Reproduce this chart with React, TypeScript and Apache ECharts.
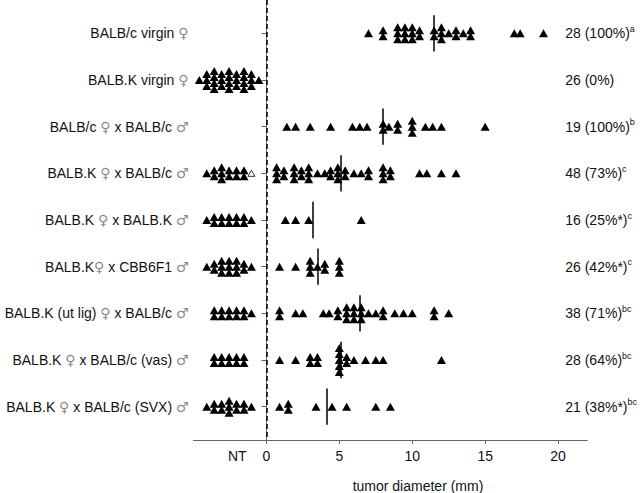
import React, { useEffect, useRef } from "react";
import * as echarts from "echarts";

// ---- data ----
const categories = [
  "BALB/c virgin ♀",
  "BALB.K virgin ♀",
  "BALB/c ♀ x BALB/c ♂",
  "BALB.K ♀ x BALB/c ♂",
  "BALB.K ♀ x BALB.K ♂",
  "BALB.K♀ x CBB6F1 ♂",
  "BALB.K (ut lig) ♀ x BALB/c ♂",
  "BALB.K ♀ x BALB/c (vas) ♂",
  "BALB.K ♀ x BALB/c (SVX) ♂",
];
const groupSizes = [28, 26, 19, 48, 16, 26, 38, 28, 21];
const percentLabels = ["100%", "0%", "100%", "73%", "25%*", "42%*", "71%", "64%", "38%*"];
const sigLetters = ["a", "", "b", "c", "c", "c", "bc", "bc", "bc"];

// tumor diameters (mm) per group
const row1 = [7.0, 8.0, 8.0, 9.0, 9.0, 9.0, 9.5, 9.5, 9.5, 10.0, 10.0, 10.0, 10.5, 10.5, 11.5, 11.5, 12.0, 12.0, 12.0, 12.5, 13.0, 13.0, 13.5, 14.0, 14.0, 17.0, 17.4, 19.0];
const row2: number[] = [];
const row3 = [1.4, 2.0, 3.0, 4.4, 5.9, 6.4, 6.9, 8.0, 8.0, 8.4, 9.0, 9.0, 10.0, 10.0, 10.0, 10.9, 11.4, 12.0, 15.0];
const row4 = [0.7, 0.7, 0.7, 1.2, 1.2, 1.9, 1.9, 1.9, 2.4, 2.4, 2.9, 2.9, 2.9, 3.5, 4.0, 4.4, 4.4, 4.9, 4.9, 4.9, 5.4, 5.4, 6.0, 6.5, 7.0, 7.0, 8.0, 8.0, 8.0, 8.5, 8.5, 10.5, 11.0, 12.0, 13.0];
const row5 = [1.3, 2.0, 2.9, 6.5];
const row6 = [0.9, 2.0, 3.0, 3.0, 3.0, 3.5, 4.0, 4.0, 5.0, 5.0, 5.0];
const row7 = [0.9, 0.9, 2.0, 2.5, 3.9, 4.3, 4.9, 4.9, 5.5, 5.5, 5.5, 6.0, 6.0, 6.0, 6.5, 6.5, 6.5, 7.0, 7.5, 8.0, 8.0, 8.8, 9.4, 10.0, 11.5, 11.5, 12.5];
const row8 = [0.9, 2.0, 3.0, 3.0, 3.5, 3.5, 5.0, 5.0, 5.0, 5.0, 5.0, 5.5, 5.5, 6.0, 6.8, 7.5, 8.0, 12.0];
const row9 = [0.9, 1.5, 1.5, 3.4, 4.5, 5.5, 7.5, 8.5];
const tumorSizes = [row1, row2, row3, row4, row5, row6, row7, row8, row9];

// non-tumor (NT) markers per cluster column (sums = group size - tumors; hollow one in group 4)
const ntColumns = [
  [0, 0, 0, 0, 0, 0, 0, 0, 0],
  [1, 3, 4, 3, 4, 3, 4, 3, 1],
  [0, 0, 0, 0, 0, 0, 0, 0, 0],
  [0, 1, 2, 3, 2, 2, 2, 0, 0],
  [0, 1, 2, 2, 2, 2, 2, 1, 0],
  [0, 1, 2, 3, 3, 3, 2, 1, 0],
  [0, 0, 2, 2, 2, 2, 2, 1, 0],
  [0, 0, 2, 2, 2, 2, 2, 0, 0],
  [0, 1, 2, 2, 3, 2, 2, 1, 0],
];
const hollowNT = [{ row: 3, col: 7 }];

// ---- layout constants ----
const FONT = "'Liberation Sans', Arial, sans-serif";
const PITCH = 6 / 46.667; // vertical stacking step in category units
const NT_START = -4.6;
const NT_STEP = 0.51;
const MEAN_HALF = 0.39;

function stackOffsets(n: number) {
  const out: number[] = [];
  for (let j = 0; j < n; j++) out.push((j - (n - 1) / 2) * PITCH);
  return out;
}

function buildTumorPoints() {
  const pts: number[][] = [];
  tumorSizes.forEach((vals, r) => {
    const groups = new Map<number, number>();
    vals.forEach((v) => groups.set(v, (groups.get(v) || 0) + 1));
    groups.forEach((n, v) => {
      stackOffsets(n).forEach((o) => pts.push([v, r + 1 + o]));
    });
  });
  return pts;
}

function buildNTPoints() {
  const pts: number[][] = [];
  ntColumns.forEach((cols, r) => {
    cols.forEach((n, c) => {
      stackOffsets(n).forEach((o) => pts.push([NT_START + c * NT_STEP, r + 1 + o]));
    });
  });
  return pts;
}

function buildMeanLines() {
  const lines: any[] = [];
  tumorSizes.forEach((vals, r) => {
    if (!vals.length) return;
    const m = vals.reduce((a, b) => a + b, 0) / vals.length;
    lines.push([{ coord: [m, r + 1 - MEAN_HALF] }, { coord: [m, r + 1 + MEAN_HALF] }]);
  });
  return lines;
}

function leftLabel(name: string) {
  return name
    .split(/([♀♂])/)
    .filter((p) => p.length)
    .map((p) => (p === "♀" || p === "♂" ? `{g|${p}}` : `{t|${p}}`))
    .join("");
}

export default function App() {
  const ref = useRef<HTMLDivElement>(null);
  useEffect(() => {
    if (!ref.current) return;
    const chart = echarts.init(ref.current, undefined, { renderer: "svg" });
    const rowVals = categories.map((_, i) => i + 1);
    const yMin = 2 / 7;
    const yMax = 68 / 7;
    const option: any = {
      animation: false,
      backgroundColor: "#ffffff",
      grid: { left: 193.5, right: 51, top: 0, bottom: 53, containLabel: false },
      xAxis: {
        type: "value",
        min: -5,
        max: 22,
        axisLine: { show: true, lineStyle: { color: "#666", width: 1 } },
        axisTick: { show: true, length: 4, customValues: [0, 5, 10, 15, 20], lineStyle: { color: "#666" } },
        splitLine: { show: false },
        axisLabel: {
          customValues: [-2, 0, 5, 10, 15, 20],
          formatter: (v: number) => (v === -2 ? "NT" : String(v)),
          fontFamily: FONT,
          fontSize: 14,
          color: "#111",
          margin: 9,
        },
      },
      yAxis: [
        {
          type: "value",
          min: yMin,
          max: yMax,
          inverse: true,
          axisLine: { show: true, lineStyle: { color: "#666", width: 1 } },
          axisTick: { show: true, length: 5, customValues: rowVals, lineStyle: { color: "#666" } },
          splitLine: { show: false },
          axisLabel: {
            customValues: rowVals,
            margin: 5,
            formatter: (v: number) => leftLabel(categories[Math.round(v) - 1] || ""),
            rich: {
              t: { fontFamily: FONT, fontSize: 14, color: "#111" },
              g: { fontFamily: "'DejaVu Sans', sans-serif", fontSize: 14, color: "#8a8a8a" },
            },
          },
        },
        {
          type: "value",
          position: "right",
          offset: -22,
          min: yMin,
          max: yMax,
          inverse: true,
          axisLine: { show: false },
          axisTick: { show: false },
          splitLine: { show: false },
          axisLabel: {
            customValues: rowVals,
            margin: 0,
            align: "left",
            formatter: (v: number) => {
              const i = Math.round(v) - 1;
              const main = `${groupSizes[i]} (${percentLabels[i]})`;
              return sigLetters[i] ? `{m|${main}}{s|${sigLetters[i]}}` : `{m|${main}}`;
            },
            rich: {
              m: { fontFamily: FONT, fontSize: 14, color: "#111", lineHeight: 18 },
              s: { fontFamily: FONT, fontSize: 9, color: "#111", lineHeight: 11, verticalAlign: "top" },
            },
          },
        },
      ],
      graphic: [
        {
          type: "text",
          x: 418,
          y: 486,
          style: {
            text: "tumor diameter (mm)",
            fontFamily: FONT,
            fontSize: 14,
            fill: "#111",
            textAlign: "center",
            textVerticalAlign: "middle",
          },
        },
      ],
      series: [
        {
          type: "scatter",
          name: "tumors",
          symbol: "triangle",
          symbolSize: [9, 8],
          itemStyle: { color: "#000", opacity: 1 },
          data: buildTumorPoints(),
          markLine: {
            silent: true,
            symbol: ["none", "none"],
            label: { show: false },
            lineStyle: { color: "#000", width: 1.5, type: "solid", opacity: 1 },
            data: buildMeanLines(),
          },
          z: 3,
        },
        {
          type: "scatter",
          name: "NT",
          symbol: "triangle",
          symbolSize: [9, 8],
          itemStyle: { color: "#000", opacity: 1 },
          data: buildNTPoints(),
          markLine: {
            silent: true,
            symbol: ["none", "none"],
            label: { show: false },
            lineStyle: { color: "#000", width: 1.5, type: [5, 3], opacity: 1 },
            data: [{ xAxis: 0 }],
          },
          z: 3,
        },
        {
          type: "scatter",
          name: "NT hollow",
          symbol: "triangle",
          symbolSize: [7, 6],
          itemStyle: { color: "#fff", borderColor: "#000", borderWidth: 0.8, opacity: 1 },
          data: hollowNT.map((h) => [NT_START + h.col * NT_STEP, h.row + 1]),
          z: 4,
        },
      ],
    };
    chart.setOption(option);
    return () => chart.dispose();
  }, []);
  return (
    <div
      ref={ref}
      style={{ position: "fixed", left: 0, top: 0, width: 640, height: 493, background: "#fff" }}
    />
  );
}
